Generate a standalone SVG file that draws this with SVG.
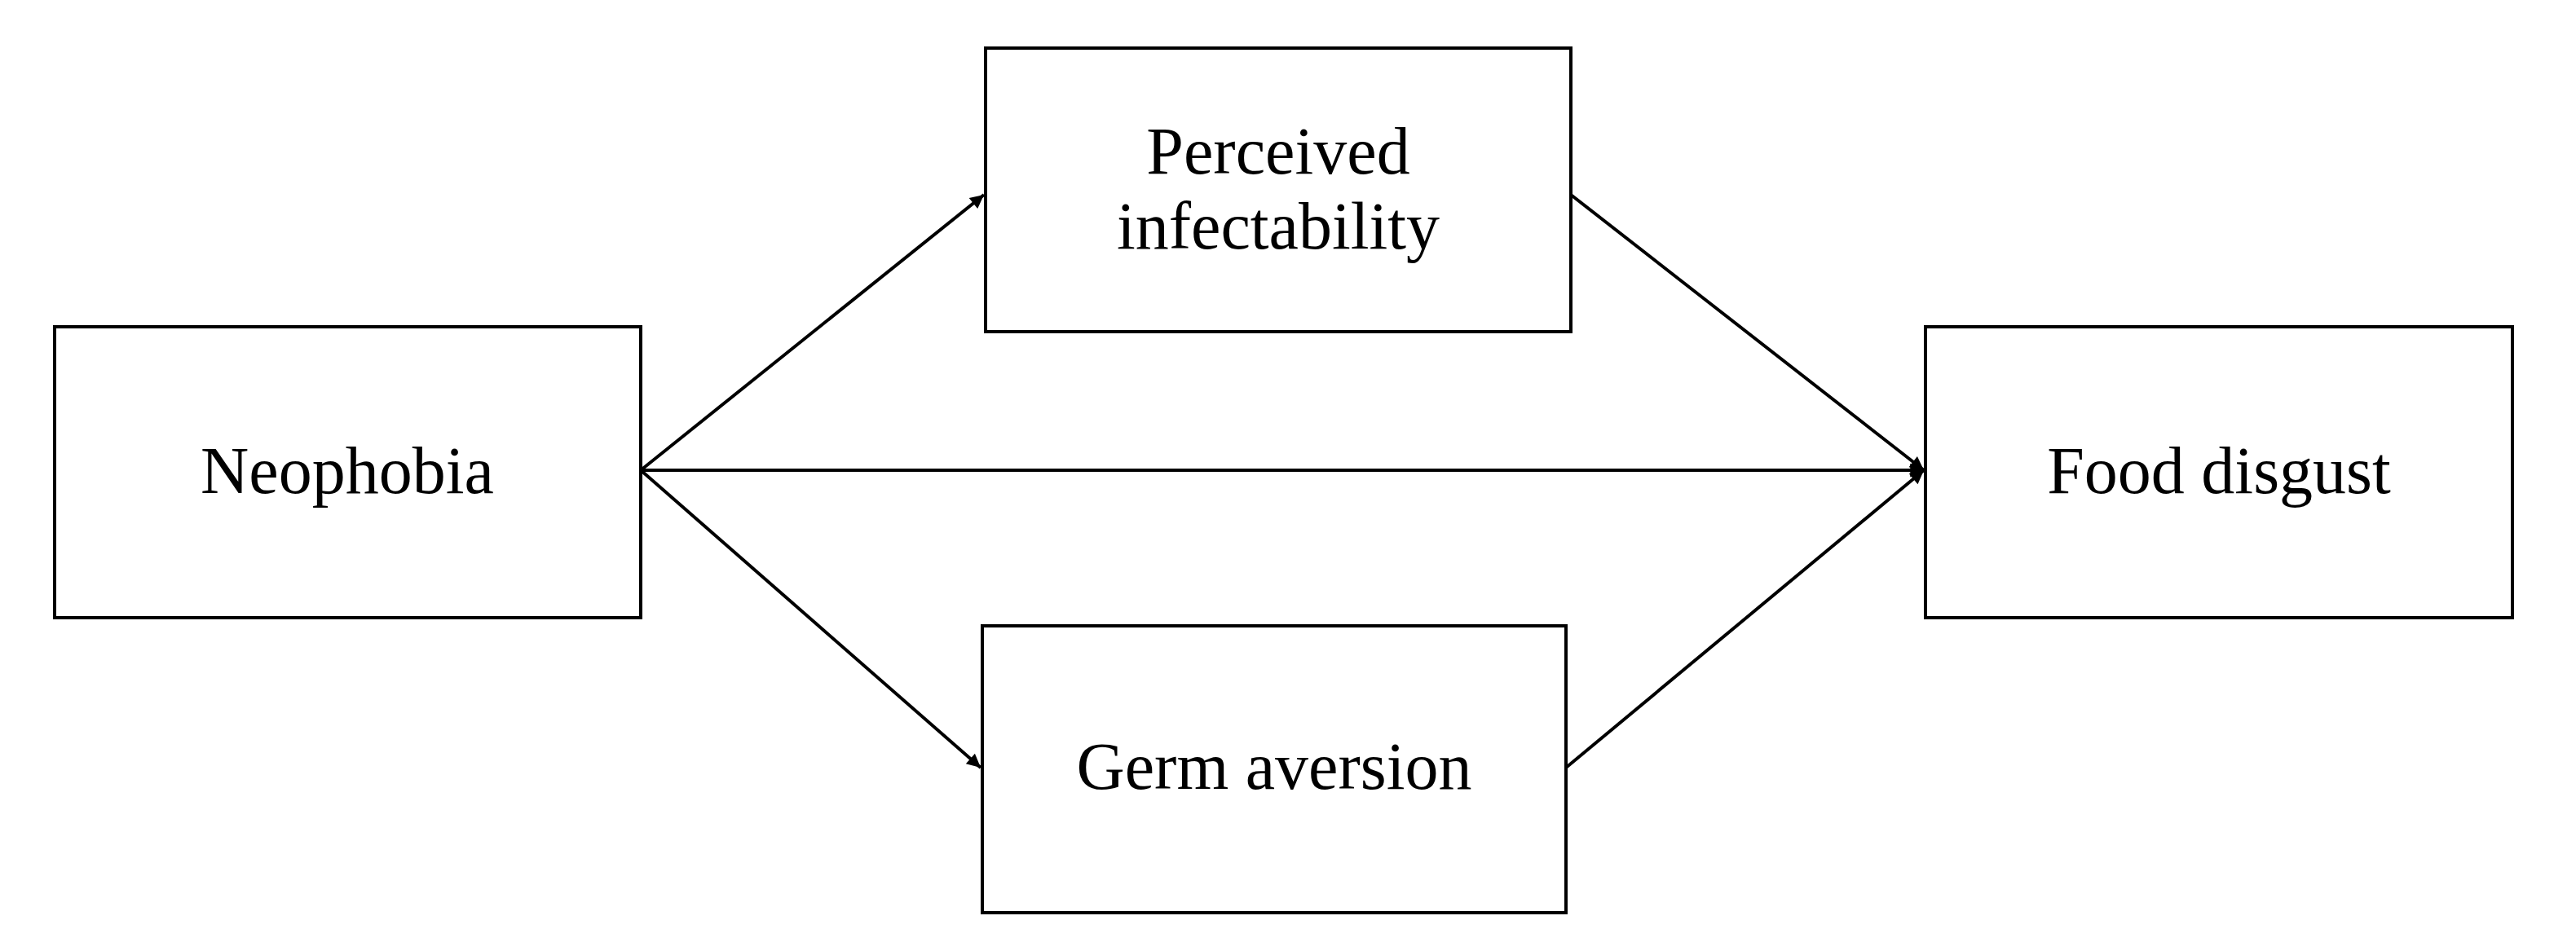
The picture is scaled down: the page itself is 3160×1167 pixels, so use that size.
<svg xmlns="http://www.w3.org/2000/svg" width="3160" height="1167" viewBox="0 0 3160 1167">
<style>
.box{fill:#fff;stroke:#000;stroke-width:4}
.t{font-family:"Liberation Serif",serif;font-size:82px;text-anchor:middle;fill:#000}
.c{stroke:#000;stroke-width:4;fill:none;marker-end:url(#a)}
</style>
<defs><marker id="a" viewBox="0 0 10 10" refX="10" refY="5" markerWidth="7" markerHeight="7" markerUnits="userSpaceOnUse" orient="auto" style="overflow:visible"><path d="M0,0 L10,5 L0,10 z" fill="#000" transform="scale(2.4) translate(-5.8,-2.9)"/></marker></defs>
<rect width="3160" height="1167" fill="#fff"/>
<g id="connectors">
<line class="c" x1="786" y1="577" x2="1207" y2="239"/>
<line class="c" x1="786" y1="577" x2="2360" y2="577"/>
<line class="c" x1="786" y1="577" x2="1203" y2="942"/>
<line class="c" x1="1927" y1="239" x2="2360" y2="577"/>
<line class="c" x1="1921" y1="942" x2="2360" y2="577"/>
</g>
<g id="neophobia"><rect class="box" x="67" y="401" width="719" height="357"/><text class="t" x="426" y="605">Neophobia</text></g>
<g id="perceived"><rect class="box" x="1209" y="59" width="718" height="348"/><text class="t" x="1568" y="213">Perceived</text><text class="t" x="1568" y="305">infectability</text></g>
<g id="germ"><rect class="box" x="1205" y="768" width="716" height="352"/><text class="t" x="1563" y="968">Germ aversion</text></g>
<g id="food"><rect class="box" x="2362" y="401" width="720" height="357"/><text class="t" x="2722" y="605">Food disgust</text></g>
</svg>
